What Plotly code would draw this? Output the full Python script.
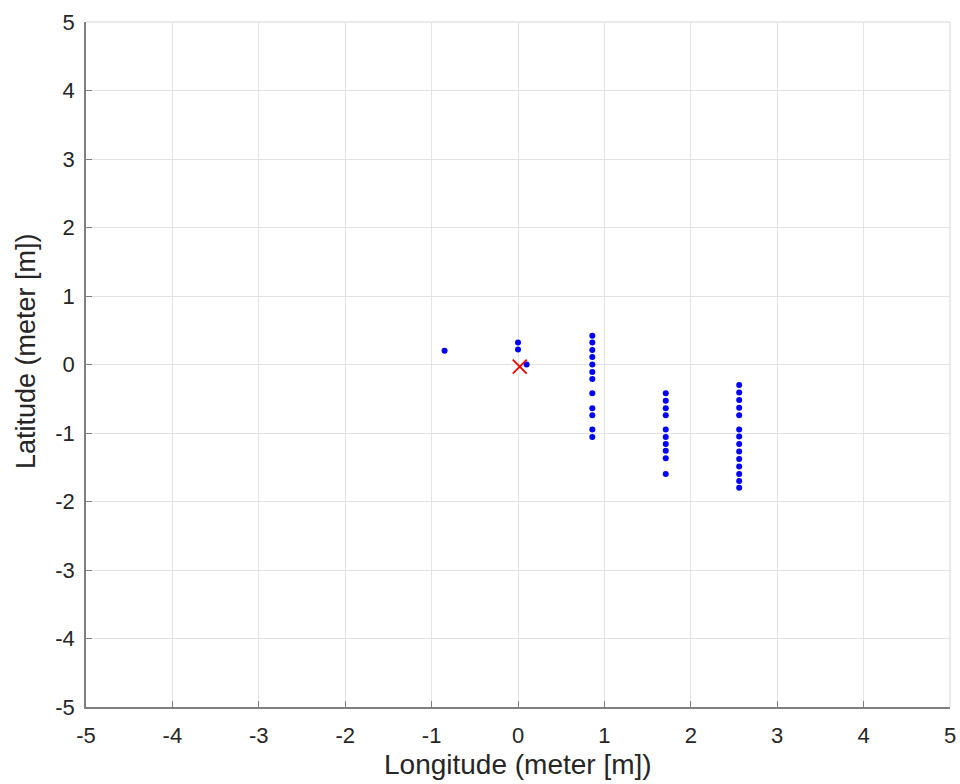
import plotly.graph_objects as go

# Blue measured points (longitude, latitude) in meters
col0_x = [-0.85, 0.0, 0.0, 0.1]
col0_y = [0.2, 0.32, 0.22, 0.0]

col1_y = [0.42, 0.32, 0.21, 0.11, 0.0, -0.11, -0.21, -0.42, -0.64, -0.74, -0.95, -1.06]
col1_xv = 0.86
col2_y = [-0.42, -0.53, -0.64, -0.74, -0.95, -1.06, -1.16, -1.26, -1.37, -1.6]
col2_xv = 1.71
col3_y = [-0.3, -0.41, -0.52, -0.63, -0.74, -0.95, -1.05, -1.16, -1.27, -1.38, -1.49, -1.6, -1.7, -1.8]
col3_xv = 2.56

ref_x = [0.02]
ref_y = [-0.03]

xs = col0_x + [col1_xv] * len(col1_y) + [col2_xv] * len(col2_y) + [col3_xv] * len(col3_y)
ys = col0_y + col1_y + col2_y + col3_y

ticks = [-5, -4, -3, -2, -1, 0, 1, 2, 3, 4, 5]

FONT = "Liberation Sans, Arial, Helvetica"
TXT = "#262626"

fig = go.Figure()
fig.add_trace(go.Scatter(x=xs, y=ys, mode="markers",
                         marker=dict(color="#0000ff", size=6), showlegend=False))
fig.add_trace(go.Scatter(x=ref_x, y=ref_y, mode="markers",
                         marker=dict(color="#ff0000", size=14, symbol="x-thin",
                                     line=dict(color="#ff0000", width=1.8)),
                         showlegend=False))

axis_common = dict(
    range=[-5, 5], tickvals=ticks, ticktext=[str(t) for t in ticks],
    showgrid=True, gridcolor="#e3e3e3", gridwidth=1,
    zeroline=False, showline=True, linecolor="#7f7f7f", linewidth=1.5,
    ticks="inside", ticklen=6, tickcolor="#7f7f7f",
    tickfont=dict(family=FONT, size=22, color=TXT),
    mirror=False, ticklabeloverflow="allow", automargin=False,
)

W, H = 960, 784
L, R, T, B = 86, 10, 22, 77
pw, ph = W - L - R, H - T - B

fig.update_layout(
    width=W, height=H,
    margin=dict(l=L, r=R, t=T, b=B),
    paper_bgcolor="white", plot_bgcolor="white",
    xaxis=dict(**axis_common, ticklabelstandoff=8),
    yaxis=dict(**axis_common, ticklabelstandoff=5),
    shapes=[
        dict(type="line", xref="paper", yref="paper", x0=0, x1=1, y0=1, y1=1,
             line=dict(color="#e3e3e3", width=1.5)),
        dict(type="line", xref="paper", yref="paper", x0=1, x1=1, y0=0, y1=1,
             line=dict(color="#e3e3e3", width=1.5)),
    ],
    annotations=[
        dict(text="Longitude (meter [m])", xref="paper", yref="paper",
             x=0.5, y=(H - B - 782) / ph, xanchor="center", yanchor="bottom",
             showarrow=False, font=dict(family=FONT, size=28, color=TXT)),
        dict(text="Latitude (meter [m])", xref="paper", yref="paper",
             x=(26 - L) / pw, y=(H - B - 351) / ph, xanchor="center", yanchor="middle",
             textangle=-90, showarrow=False, font=dict(family=FONT, size=27, color=TXT)),
    ],
)

fig.write_html("out.html", config={"displayModeBar": False},
               post_script="document.body.style.margin='0';document.body.style.overflow='hidden';")
